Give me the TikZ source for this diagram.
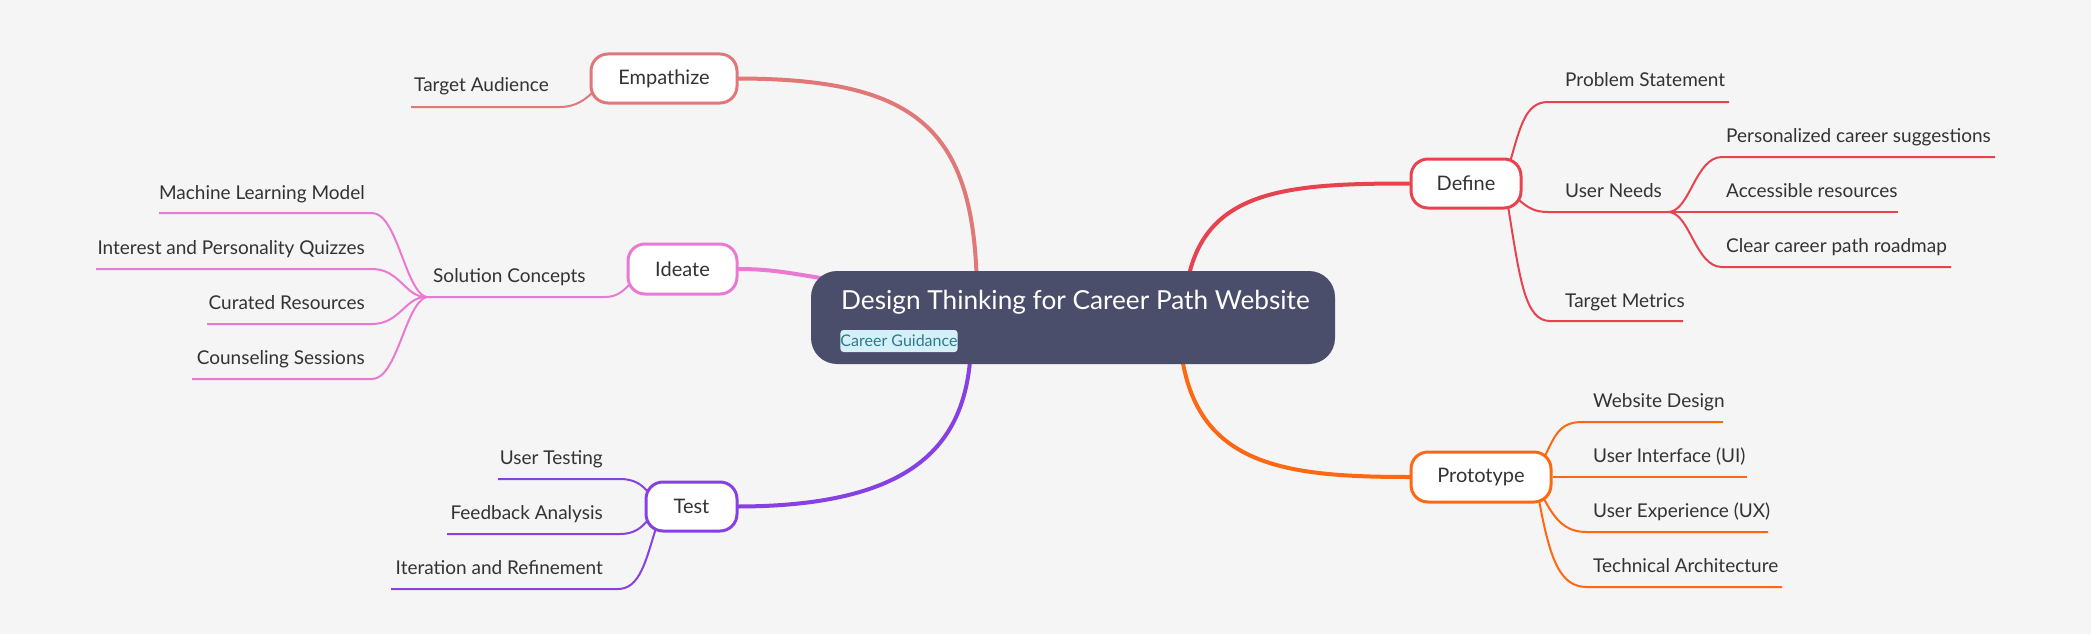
\documentclass[tikz,border=0pt]{standalone}
\usepackage{fontspec}
\setmainfont{Lato}
\pgfdeclarelayer{back}
\pgfdeclarelayer{bg}
\pgfsetlayers{back,bg,main}
\definecolor{bgc}{HTML}{F5F5F5}
\definecolor{txt}{HTML}{333333}
\definecolor{centerc}{HTML}{4B4E6A}
\definecolor{tagfill}{HTML}{D5F1F7}
\definecolor{tagtxt}{HTML}{2E7A8C}
\definecolor{cemp}{HTML}{E07878}
\definecolor{cide}{HTML}{EA79D2}
\definecolor{ctest}{HTML}{8740E4}
\definecolor{cdef}{HTML}{E6434F}
\definecolor{cpro}{HTML}{FF6812}
\begin{document}
\begin{tikzpicture}[x=1pt,y=-1pt,
  branchbox/.style={draw, line width=3pt, fill=white, rounded corners=17pt, inner sep=0pt, text=txt, font=\fontsize{20}{24}\selectfont},
  leaf/.style={inner sep=0pt, text=txt, font=\fontsize{19}{23}\selectfont},
  mainline/.style={line width=4pt, line cap=round},
  subline/.style={line width=2pt}]
\begin{pgfonlayer}{back}
\fill[bgc] (0,0) rectangle (2091,634);
\end{pgfonlayer}
\useasboundingbox (0,0) rectangle (2091,634);

% central node
\node[fill=centerc, rounded corners=26pt, minimum width=524pt, minimum height=93pt, inner sep=0pt] (root) at (1073,317.5) {};
\node[anchor=base west, inner sep=0pt, text=white, font=\fontsize{26.2}{30}\selectfont] (title) at (841,309) {Design Thinking for Career Path Website};
\node[fill=tagfill, rounded corners=3pt, minimum width=116pt, minimum height=22pt, inner sep=0pt, text=tagtxt, font=\fontsize{16}{18}\selectfont] (tag) at (899,341) {Career Guidance};

% branch nodes
\node[branchbox, draw=cemp, minimum width=146pt, minimum height=49pt] (emp) at (664,78.5) {Empathize};
\node[branchbox, draw=cide, minimum width=109pt, minimum height=50pt] (ide) at (682.5,269) {Ideate};
\node[branchbox, draw=ctest, minimum width=91pt, minimum height=49pt] (tst) at (691.5,506.5) {Test};
\node[branchbox, draw=cdef, minimum width=110pt, minimum height=49pt] (def) at (1466,183.5) {Define};
\node[branchbox, draw=cpro, minimum width=140pt, minimum height=50pt] (pro) at (1481,477) {Prototype};

% leaf texts
\node[leaf, anchor=base west] (ta) at (414,92) {Target Audience};
\node[leaf, anchor=base west] (sc) at (433,282) {Solution Concepts};
\node[leaf, anchor=base east] (ml) at (365,199) {Machine Learning Model};
\node[leaf, anchor=base east] (iq) at (365,254) {Interest and Personality Quizzes};
\node[leaf, anchor=base east] (cr) at (365,309) {Curated Resources};
\node[leaf, anchor=base east] (cs) at (365,364) {Counseling Sessions};
\node[leaf, anchor=base east] (ut) at (603,464) {User Testing};
\node[leaf, anchor=base east] (fa) at (603,519) {Feedback Analysis};
\node[leaf, anchor=base east] (ir) at (603,574) {Iteration and Refinement};
\node[leaf, anchor=base west] (ps) at (1565,87) {Problem Statement};
\node[leaf, anchor=base west] (un) at (1565,197) {User Needs};
\node[leaf, anchor=base west] (tm) at (1565,307) {Target Metrics};
\node[leaf, anchor=base west] (pc) at (1726,142) {Personalized career suggestions};
\node[leaf, anchor=base west] (ar) at (1726,197) {Accessible resources};
\node[leaf, anchor=base west] (cc) at (1726,252) {Clear career path roadmap};
\node[leaf, anchor=base west] (wd) at (1593,407) {Website Design};
\node[leaf, anchor=base west] (ui) at (1593,462) {User Interface (UI)};
\node[leaf, anchor=base west] (ux) at (1593,517) {User Experience (UX)};
\node[leaf, anchor=base west] (ta2) at (1593,572) {Technical Architecture};

% hubs
\coordinate (hubI) at (426,297);
\coordinate (hubU) at (1668,212);

\begin{pgfonlayer}{bg}
% main branches
\draw[mainline, cemp] (emp.east) .. controls (920,79) and (977,130) .. (977,300);
\draw[mainline, cide] (ide.east) .. controls (780,269) and (800,276) .. (850,282);
\draw[mainline, ctest] (tst.east) .. controls (920,506) and (970,440) .. (971,340);
\draw[mainline, cdef] (1185,300) .. controls (1195,190) and (1280,183.5) .. (def.west);
\draw[mainline, cpro] (1180,340) .. controls (1190,465) and (1280,477) .. (pro.west);

% Empathize
\draw[subline, cemp] (411,107) -- (560,107) .. controls (575,107) and (585,100) .. (593,92);
% Ideate
\draw[subline, cide] (hubI) -- (605,297) .. controls (618,297) and (624,290) .. (631,283);
\draw[subline, cide] (159,213) -- (372,213) .. controls (397,213) and (405,290) .. (hubI);
\draw[subline, cide] (96,269) -- (372,269) .. controls (400,269) and (405,297) .. (hubI);
\draw[subline, cide] (207,324) -- (372,324) .. controls (400,324) and (405,297) .. (hubI);
\draw[subline, cide] (192,379) -- (372,379) .. controls (397,379) and (405,305) .. (hubI);
% Test
\draw[subline, ctest] (498,479) -- (620,479) .. controls (635,479) and (642,485) .. (648,492);
\draw[subline, ctest] (447,534) -- (620,534) .. controls (635,534) and (642,527) .. (648,520);
\draw[subline, ctest] (391,589) -- (618,589) .. controls (640,589) and (646,560) .. (656,528);
% Define
\draw[subline, cdef] (1510,162) .. controls (1520,128) and (1525,102) .. (1548,102) -- (1729,102);
\draw[subline, cdef] (1519,200) .. controls (1528,208) and (1535,212) .. (1548,212) -- (hubU);
\draw[subline, cdef] (1508,206) .. controls (1520,280) and (1525,321) .. (1550,321) -- (1683,321);
\draw[subline, cdef] (hubU) .. controls (1690,212) and (1695,157) .. (1722,157) -- (1995,157);
\draw[subline, cdef] (hubU) -- (1898,212);
\draw[subline, cdef] (hubU) .. controls (1690,212) and (1695,267) .. (1722,267) -- (1951,267);
% Prototype
\draw[subline, cpro] (1545,456) .. controls (1555,435) and (1560,422) .. (1582,422) -- (1723,422);
\draw[subline, cpro] (pro.east) -- (1747,477);
\draw[subline, cpro] (1543,497) .. controls (1555,520) and (1565,532) .. (1587,532) -- (1768,532);
\draw[subline, cpro] (1539,500) .. controls (1550,560) and (1560,587) .. (1587,587) -- (1782,587);
\end{pgfonlayer}
\end{tikzpicture}
\end{document}
